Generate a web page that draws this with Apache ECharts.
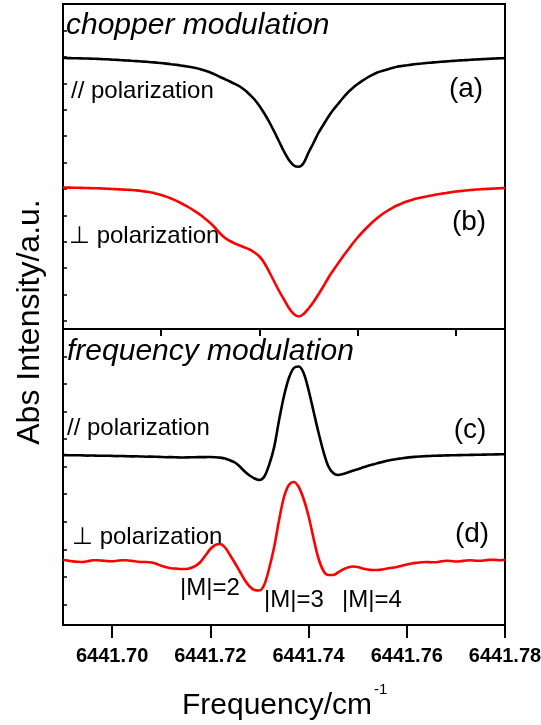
<!DOCTYPE html>
<html>
<head>
<meta charset="utf-8">
<script src="https://cdn.jsdelivr.net/npm/echarts@6/dist/echarts.min.js"></script>
<style>
  html, body { margin: 0; padding: 0; background: #fff; }
  #chart { width: 541px; height: 725px; }
</style>
</head>
<body>
<div id="chart"></div>
<script>
// Frequency axis (cm^-1)
const freqMin = 6441.69;
const freqMax = 6441.78;
const majorTicks = [6441.70, 6441.72, 6441.74, 6441.76, 6441.78];
const minorTicks = [6441.69, 6441.71, 6441.73, 6441.75, 6441.77];

// Sampling grid of the recorded scans
const freq = [
  6441.690, 6441.691, 6441.692, 6441.693, 6441.694, 6441.695, 6441.696, 6441.697, 6441.698, 6441.699,
  6441.700, 6441.701, 6441.702, 6441.703, 6441.704, 6441.705, 6441.706, 6441.707, 6441.708, 6441.709,
  6441.710, 6441.711, 6441.712, 6441.713, 6441.714, 6441.715, 6441.716, 6441.717, 6441.718, 6441.719,
  6441.720, 6441.721, 6441.722, 6441.723, 6441.724, 6441.725, 6441.726, 6441.727, 6441.728, 6441.729,
  6441.730, 6441.731, 6441.732, 6441.733, 6441.734, 6441.735, 6441.736, 6441.737, 6441.738, 6441.739,
  6441.740, 6441.741, 6441.742, 6441.743, 6441.744, 6441.745, 6441.746, 6441.747, 6441.748, 6441.749,
  6441.750, 6441.751, 6441.752, 6441.753, 6441.754, 6441.755, 6441.756, 6441.757, 6441.758, 6441.759,
  6441.760, 6441.761, 6441.762, 6441.763, 6441.764, 6441.765, 6441.766, 6441.767, 6441.768, 6441.769,
  6441.770, 6441.771, 6441.772, 6441.773, 6441.774, 6441.775, 6441.776, 6441.777, 6441.778, 6441.779,
  6441.780];

// (a) chopper modulation, // polarization (offset trace, a.u.)
const absA = [
  27.10, 27.09, 27.08, 27.07, 27.06, 27.05, 27.03, 27.01, 26.99, 26.97,
  26.94, 26.91, 26.88, 26.85, 26.82, 26.79, 26.75, 26.72, 26.68, 26.64,
  26.60, 26.54, 26.48, 26.42, 26.35, 26.28, 26.20, 26.10, 25.98, 25.83,
  25.65, 25.44, 25.20, 24.98, 24.75, 24.51, 24.25, 23.90, 23.45, 22.95,
  22.30, 21.55, 20.70, 19.75, 18.75, 17.75, 16.90, 16.35, 16.22, 16.60,
  17.65, 18.60, 19.60, 20.40, 21.20, 21.90, 22.50, 23.10, 23.65, 24.10,
  24.50, 24.84, 25.15, 25.42, 25.65, 25.81, 25.95, 26.09, 26.22, 26.30,
  26.37, 26.44, 26.50, 26.55, 26.60, 26.64, 26.68, 26.72, 26.76, 26.80,
  26.83, 26.86, 26.89, 26.92, 26.95, 26.98, 27.00, 27.03, 27.05, 27.07,
  27.09];

// (b) chopper modulation, perpendicular polarization
const absB = [
  14.15, 14.14, 14.13, 14.12, 14.11, 14.10, 14.08, 14.07, 14.05, 14.03,
  14.00, 13.98, 13.95, 13.93, 13.90, 13.86, 13.80, 13.73, 13.65, 13.53,
  13.40, 13.24, 13.05, 12.84, 12.60, 12.33, 12.05, 11.73, 11.40, 11.01,
  10.60, 10.10, 9.55, 9.10, 8.80, 8.55, 8.35, 8.15, 7.95, 7.65,
  7.25, 6.60, 5.70, 4.75, 3.80, 2.95, 2.10, 1.50, 1.25, 1.50,
  2.05, 2.70, 3.45, 4.25, 5.10, 5.85, 6.55, 7.25, 7.90, 8.55,
  9.15, 9.70, 10.20, 10.67, 11.10, 11.47, 11.80, 12.09, 12.35, 12.56,
  12.75, 12.91, 13.05, 13.15, 13.25, 13.35, 13.45, 13.53, 13.60, 13.68,
  13.75, 13.80, 13.85, 13.90, 13.95, 13.98, 14.00, 14.03, 14.05, 14.08,
  14.10];

// (c) frequency modulation, // polarization
const absC = [
  17.00, 16.98, 16.97, 16.98, 16.96, 16.94, 16.95, 16.93, 16.92, 16.93,
  16.91, 16.89, 16.90, 16.88, 16.86, 16.87, 16.85, 16.83, 16.84, 16.82,
  16.80, 16.78, 16.79, 16.77, 16.75, 16.76, 16.77, 16.78, 16.79, 16.79,
  16.80, 16.78, 16.74, 16.65, 16.47, 16.25, 15.85, 15.35, 14.95, 14.65,
  14.50, 14.85, 16.05, 17.80, 20.50, 22.90, 24.70, 25.70, 25.85, 25.20,
  23.50, 21.40, 19.30, 17.40, 15.90, 15.20, 15.00, 15.10, 15.25, 15.42,
  15.58, 15.74, 15.90, 16.04, 16.18, 16.30, 16.42, 16.52, 16.60, 16.67,
  16.74, 16.79, 16.83, 16.86, 16.89, 16.91, 16.93, 16.94, 16.96, 16.97,
  16.98, 16.99, 17.00, 17.01, 17.02, 17.03, 17.04, 17.05, 17.06, 17.07,
  17.08];

// (d) frequency modulation, perpendicular polarization
const absD = [
  6.50, 6.44, 6.36, 6.32, 6.30, 6.37, 6.47, 6.48, 6.44, 6.39,
  6.37, 6.42, 6.48, 6.47, 6.41, 6.35, 6.30, 6.30, 6.25, 6.12,
  5.92, 5.77, 5.68, 5.64, 5.60, 5.60, 5.70, 5.92, 6.30, 6.95,
  7.60, 8.00, 8.10, 7.75, 7.00, 6.20, 5.35, 4.50, 3.85, 3.50,
  3.45, 4.05, 5.70, 7.80, 10.50, 12.80, 14.00, 14.30, 13.80, 12.60,
  10.90, 8.70, 6.70, 5.45, 5.00, 5.00, 5.25, 5.55, 5.75, 5.85,
  5.80, 5.65, 5.55, 5.50, 5.50, 5.55, 5.65, 5.72, 5.80, 5.92,
  6.05, 6.15, 6.22, 6.28, 6.30, 6.27, 6.28, 6.36, 6.42, 6.40,
  6.35, 6.38, 6.45, 6.47, 6.43, 6.42, 6.47, 6.52, 6.51, 6.48,
  6.53];

// Text drawn on the panels
const panelTitles = ['chopper modulation', 'frequency modulation'];
const traceLabels = ['// polarization', '\u22A5 polarization', '// polarization', '\u22A5 polarization'];
const traceTags = ['(a)', '(b)', '(c)', '(d)'];
const peakLabels = ['|M|=2', '|M|=3', '|M|=4'];

const zip = (xs, ys) => xs.map((x, i) => [x, ys[i]]);

const FONT = '"Liberation Sans", Arial, sans-serif';
const chart = echarts.init(document.getElementById('chart'), null, { renderer: 'canvas' });

const hiddenAxis = {
  axisLine: { show: false }, axisTick: { show: false },
  axisLabel: { show: false }, splitLine: { show: false }
};

const txt = (text, x, y, size, opts) => {
  opts = opts || {};
  return {
    type: 'text', x: x, y: y, silent: true, rotation: opts.rotation || 0,
    style: {
      text: text,
      font: (opts.italic ? 'italic ' : '') + size + 'px ' + FONT,
      fill: '#000',
      textAlign: opts.align || 'left',
      textVerticalAlign: 'middle'
    }
  };
};

const lineSeries = (name, xIdx, yIdx, ys, color) => ({
  type: 'line', name: name, xAxisIndex: xIdx, yAxisIndex: yIdx,
  data: zip(freq, ys), showSymbol: false, smooth: 0.3,
  lineStyle: { color: color, width: 2.6 }, itemStyle: { color: color }
});

const panelGrid = (top, height) => ({
  left: 63, top: top, width: 442, height: height,
  containLabel: false, outerBoundsMode: 'none',
  show: true, borderColor: '#000', borderWidth: 2, backgroundColor: 'transparent'
});

const tickAxis = (gridIndex, max) => ({
  type: 'value', gridIndex: gridIndex, inverse: true, min: 0, max: max, interval: 1, position: 'left',
  axisLine: { show: false },
  axisTick: { show: true, inside: true, length: 4, lineStyle: { color: '#000', width: 1.5 } },
  axisLabel: { show: false }, splitLine: { show: false }
});

chart.setOption({
  animation: false,
  backgroundColor: '#fff',
  grid: [panelGrid(4, 325), panelGrid(329, 296)],
  xAxis: [
    Object.assign({ type: 'value', gridIndex: 0, min: freqMin, max: freqMax }, hiddenAxis),
    {
      type: 'value', gridIndex: 1, min: freqMin, max: freqMax, position: 'bottom',
      axisLine: { show: false },
      axisTick: { show: true, customValues: majorTicks, length: 13, lineStyle: { color: '#000', width: 2 } },
      axisLabel: {
        show: true, customValues: majorTicks, margin: 21, hideOverlap: false,
        formatter: v => v.toFixed(2),
        fontFamily: FONT, fontWeight: 'bold', fontSize: 20, color: '#000'
      },
      splitLine: { show: false }
    },
    {
      type: 'value', gridIndex: 1, min: freqMin, max: freqMax, position: 'bottom',
      axisLine: { show: false },
      axisTick: { show: true, customValues: minorTicks, length: 7, lineStyle: { color: '#000', width: 2 } },
      axisLabel: { show: false }, splitLine: { show: false }
    }
  ],
  yAxis: [
    Object.assign({ type: 'value', gridIndex: 0, min: 0, max: 32.5 }, hiddenAxis),
    tickAxis(0, 12.3),
    Object.assign({ type: 'value', gridIndex: 1, min: 0, max: 29.6 }, hiddenAxis),
    tickAxis(1, 10.75)
  ],
  series: [
    lineSeries('(a)', 0, 0, absA, '#000000'),
    lineSeries('(b)', 0, 0, absB, '#ff0000'),
    lineSeries('(c)', 1, 2, absC, '#000000'),
    lineSeries('(d)', 1, 2, absD, '#ff0000')
  ],
  graphic: [
    txt(panelTitles[0], 66, 26, 30, { italic: true }),
    txt(panelTitles[1], 67, 352, 30, { italic: true }),
    txt(traceLabels[0], 71, 91, 24),
    txt(traceLabels[1], 69, 236, 24),
    txt(traceLabels[2], 67, 428, 24),
    txt(traceLabels[3], 72, 537, 24),
    txt(traceTags[0], 466, 89, 28, { align: 'center' }),
    txt(traceTags[1], 469, 222, 28, { align: 'center' }),
    txt(traceTags[2], 470, 430, 28, { align: 'center' }),
    txt(traceTags[3], 472, 534, 28, { align: 'center' }),
    txt(peakLabels[0], 180, 588, 24),
    txt(peakLabels[1], 264, 600, 24),
    txt(peakLabels[2], 342, 600, 24),
    txt('Frequency/cm', 182, 706, 30),
    txt('-1', 374, 690, 15),
    txt('Abs Intensity/a.u.', 30, 322, 32, { align: 'center', rotation: Math.PI / 2 })
  ]
});
</script>
</body>
</html>
